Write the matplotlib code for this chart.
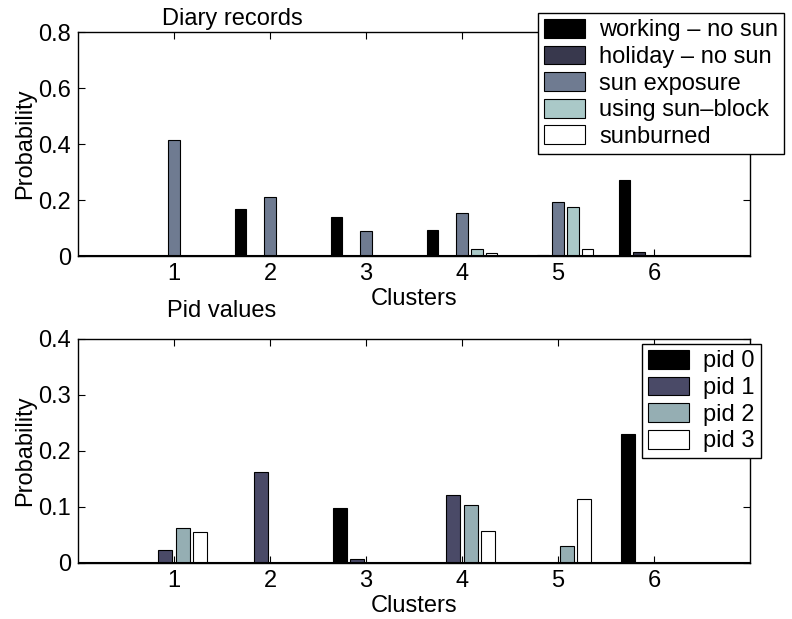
import matplotlib
matplotlib.use('Agg')
import matplotlib.pyplot as plt
import numpy as np

plt.rcParams['font.family'] = ['Liberation Sans', 'DejaVu Sans']
plt.rcParams['font.size'] = 17

clusters = [1, 2, 3, 4, 5, 6]

# diary records per cluster
diary_labels = ['working \u2013 no sun', 'holiday \u2013 no sun', 'sun exposure',
                'using sun\u2013block', 'sunburned']
working = [0.0, 0.168, 0.139, 0.092, 0.0, 0.270]
holiday = [0.0, 0.0, 0.0, 0.0, 0.004, 0.015]
sun_exposure = [0.413, 0.211, 0.090, 0.152, 0.192, 0.0]
sun_block = [0.0, 0.0, 0.0, 0.024, 0.174, 0.0]
sunburned = [0.0, 0.0, 0.0, 0.010, 0.024, 0.0]
diary_colors = ['#000000', '#38384d', '#6f7b91', '#aac9c8', '#ffffff']

# pid values per cluster
pid_labels = ['pid 0', 'pid 1', 'pid 2', 'pid 3']
pid0 = [0.0, 0.0, 0.098, 0.0, 0.0, 0.231]
pid1 = [0.024, 0.163, 0.007, 0.121, 0.0, 0.0]
pid2 = [0.062, 0.0, 0.0, 0.103, 0.030, 0.0]
pid3 = [0.055, 0.0, 0.0, 0.057, 0.114, 0.0]
pid_colors = ['#000000', '#4a4a67', '#95aeb3', '#ffffff']


def barras_agrupadas(ax, series, cores, rotulos):
    # mesma logica de agrupamento do bar() do matlab
    n = len(series)
    largura_grupo = min(0.8, n / (n + 1.5))
    passo = largura_grupo / n
    x = np.array(clusters, dtype=float)
    for i, (vals, cor, rot) in enumerate(zip(series, cores, rotulos)):
        desloc = (i - (n - 1) / 2.0) * passo
        ax.bar(x + desloc, vals, width=passo * 0.8, color=cor, edgecolor='black',
               linewidth=0.8, label=rot, zorder=2)


def estilo(ax, ymax, ystep):
    ax.set_xlim(0, 7)
    ax.set_ylim(0, ymax)
    ax.set_xticks(clusters)
    ax.set_yticks(np.arange(0, ymax + ystep / 2, ystep))
    ax.set_yticklabels(['0'] + ['%g' % v for v in np.arange(ystep, ymax + ystep / 2, ystep)])
    ax.tick_params(direction='in', top=True, right=True, length=5, width=0.8, pad=5)
    for s in ax.spines.values():
        s.set_linewidth(1.0)
    ax.axhline(0, color='black', linewidth=1.5, zorder=3)
    ax.set_xlabel('Clusters', va='center')
    ax.xaxis.set_label_coords(0.5, -0.19)
    ax.set_ylabel('Probability', va='center')
    ax.yaxis.set_label_coords(-0.079, 0.5)


def legenda(ax, x0, y0):
    leg = ax.legend(loc='upper left', bbox_to_anchor=(x0 / 792, 1 - y0 / 619),
                    bbox_transform=fig.transFigure, frameon=True, fancybox=False,
                    edgecolor='black', handlelength=1.75, handleheight=0.85,
                    labelspacing=0.17, borderpad=0.25, handletextpad=0.6, borderaxespad=0)
    leg.get_frame().set_linewidth(1.0)
    leg.get_frame().set_alpha(1)


fig = plt.figure(figsize=(7.92, 6.19), dpi=100)
ax1 = fig.add_axes([0.0985, 0.5864, 0.8485, 0.3619])
ax2 = fig.add_axes([0.0985, 0.0905, 0.8485, 0.3619])

barras_agrupadas(ax1, [working, holiday, sun_exposure, sun_block, sunburned], diary_colors, diary_labels)
estilo(ax1, 0.8, 0.2)
ax1.text(0.229, 1.031, 'Diary records', transform=ax1.transAxes, ha='center', va='baseline')
legenda(ax1, 538, 13)

barras_agrupadas(ax2, [pid0, pid1, pid2, pid3], pid_colors, pid_labels)
estilo(ax2, 0.4, 0.1)
ax2.text(0.214, 1.098, 'Pid values', transform=ax2.transAxes, ha='center', va='baseline')
legenda(ax2, 642, 344)

fig.savefig('out.png', dpi=100)
